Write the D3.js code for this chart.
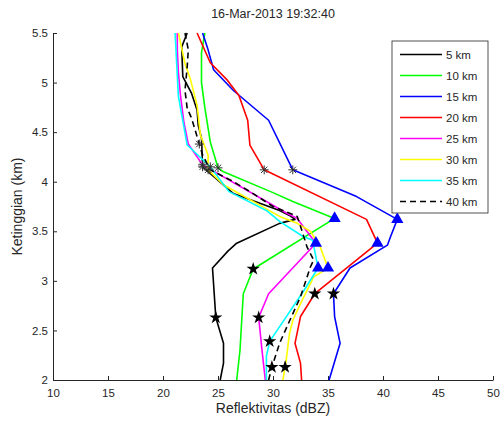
<!DOCTYPE html>
<html lang="en">
<head>
<meta charset="UTF-8">
<title>Profil reflektivitas</title>
<script src="https://d3js.org/d3.v7.min.js"></script>
<style>
    body { margin: 0; background: #fff; }
    text { font-family: "Liberation Sans", Arial, sans-serif; fill: #262626; }
</style>
</head>
<body>
<script>
    const width = 502;
    const height = 423;

    // profile data: [dBZ, height km]
    const km5 = [[25.2,2.0],[25.5,2.17],[25.5,2.37],[24.8,2.63],[24.5,3.13],[25.9,3.3],[26.7,3.38],[30.6,3.58],[32.0,3.62],[31.5,3.66],[30.6,3.71],[26.4,3.88],[23.6,4.15],[23.5,4.44],[23.2,4.57],[23.1,4.72],[22.6,4.89],[21.8,5.06],[21.7,5.36],[22.2,5.5]];
    const km10 = [[26.7,2.0],[27.0,2.3],[27.3,2.87],[28.2,3.12],[35.6,3.63],[31.8,3.8],[30.0,3.89],[25.5,4.1],[25.0,4.14],[24.3,4.4],[23.8,4.75],[23.5,5.0],[23.5,5.3],[23.8,5.5]];
    const km15 = [[35.1,2.0],[36.1,2.37],[35.6,2.64],[35.5,2.87],[37.0,3.13],[40.4,3.36],[40.7,3.45],[41.3,3.62],[37.6,3.85],[31.8,4.12],[29.6,4.62],[26.4,4.92],[24.6,5.13],[24.1,5.33],[23.6,5.5]];
    const km20 = [[32.6,2.0],[32.5,2.17],[32.0,2.37],[32.5,2.64],[33.8,2.87],[39.5,3.38],[38.5,3.62],[29.2,4.12],[27.9,4.37],[27.7,4.62],[26.9,4.87],[25.8,5.03],[24.3,5.2],[23.1,5.5]];
    const km25 = [[29.3,2.0],[29.0,2.3],[28.7,2.63],[29.6,2.87],[33.9,3.38],[32.2,3.63],[31.3,3.68],[23.6,4.17],[22.3,4.38],[21.9,4.6],[21.6,4.86],[21.4,5.1],[21.3,5.33],[21.3,5.5]];
    const km30 = [[30.9,2.0],[31.1,2.13],[31.2,2.2],[31.5,2.47],[31.8,2.6],[32.5,2.77],[33.7,3.04],[35.0,3.13],[34.3,3.34],[33.4,3.5],[32.2,3.58],[30.6,3.65],[25.5,3.97],[24.1,4.12],[24.1,4.27],[23.4,4.47],[23.1,4.77],[22.5,5.03],[22.0,5.19],[21.4,5.5]];
    const km35 = [[29.4,2.0],[29.4,2.24],[29.7,2.39],[32.8,2.9],[34.1,3.13],[33.6,3.41],[32.7,3.45],[30.6,3.6],[29.4,3.71],[26.0,3.9],[24.3,4.15],[22.2,4.37],[21.4,4.86],[21.1,5.5]];
    const km40 = [[29.6,2.0],[29.9,2.13],[30.6,2.37],[31.4,2.57],[32.5,2.84],[33.4,3.14],[33.7,3.21],[33.1,3.34],[32.5,3.55],[32.2,3.65],[30.0,3.75],[28.2,3.88],[26.4,4.0],[24.3,4.12],[23.6,4.27],[23.3,4.38],[22.6,4.64],[22.2,4.74],[22.0,4.92],[22.2,5.16],[22.3,5.33],[22.0,5.5]];

    const seriesNames = ["5 km", "10 km", "15 km", "20 km", "25 km", "30 km", "35 km", "40 km"];
    const seriesData = [km5, km10, km15, km20, km25, km30, km35, km40];
    const seriesColors = ["#000000", "#00ff00", "#0000ff", "#ff0000", "#ff00ff", "#ffff00", "#00ffff", "#000000"];

    // markers
    const lowStars = [[24.8,2.63],[28.2,3.12],[35.5,2.87],[33.8,2.87],[28.7,2.63],[31.1,2.13],[29.7,2.39],[29.9,2.13]];
    const highStars = [[23.6,4.15],[25.0,4.14],[31.8,4.12],[29.2,4.12],[23.6,4.17],[24.1,4.12],[24.3,4.15],[23.3,4.38]];
    const peaks = [[35.6,3.63],[41.3,3.62],[39.5,3.38],[33.9,3.38],[35.0,3.13],[34.1,3.13]];

    const xTicks = [10, 15, 20, 25, 30, 35, 40, 45, 50];
    const yTicks = [2, 2.5, 3, 3.5, 4, 4.5, 5, 5.5];

    const margin = {top: 33, right: 9, bottom: 43, left: 53};

    const x = d3.scaleLinear().domain([10, 50]).range([margin.left, width - margin.right]);
    const y = d3.scaleLinear().domain([2, 5.5]).range([height - margin.bottom, margin.top]);

    const svg = d3.select("body").append("svg")
        .attr("width", width)
        .attr("height", height);

    // axes
    const xAxis = svg.append("g")
        .attr("transform", `translate(0,${y(2)})`)
        .call(d3.axisBottom(x).tickValues(xTicks).tickSizeInner(-4).tickSizeOuter(0).tickPadding(9).tickFormat(d3.format("d")));
    const yAxis = svg.append("g")
        .attr("transform", `translate(${x(10)},0)`)
        .call(d3.axisLeft(y).tickValues(yTicks).tickSizeInner(-4).tickSizeOuter(0).tickPadding(5).tickFormat(d => d));

    [xAxis, yAxis].forEach(a => {
        a.select(".domain").attr("stroke", "#262626");
        a.selectAll(".tick line").attr("stroke", "#262626");
        a.selectAll(".tick text").style("font-size", "11.5px").attr("fill", "#262626");
    });

    const line = d3.line().x(d => x(d[0])).y(d => y(d[1]));

    svg.append("g").selectAll("path")
        .data(seriesData)
        .join("path")
        .attr("d", line)
        .attr("fill", "none")
        .attr("stroke", (d, i) => seriesColors[i])
        .attr("stroke-width", 1.6)
        .attr("stroke-dasharray", (d, i) => i === 7 ? "6,4" : null)
        .attr("stroke-linejoin", "round");

    // asterisk marker like matlab '*'
    const asterisk = {
        draw(ctx, size) {
            const r = Math.sqrt(size) / 2;
            const a = r * 0.72;
            ctx.moveTo(-r, 0); ctx.lineTo(r, 0);
            ctx.moveTo(0, -r); ctx.lineTo(0, r);
            ctx.moveTo(-a, -a); ctx.lineTo(a, a);
            ctx.moveTo(-a, a); ctx.lineTo(a, -a);
        }
    };

    svg.append("g").selectAll("path")
        .data(peaks)
        .join("path")
        .attr("transform", d => `translate(${x(d[0])},${y(d[1])})`)
        .attr("d", d3.symbol().type(d3.symbolTriangle).size(65))
        .attr("fill", "#0000ff");

    svg.append("g").selectAll("path")
        .data(lowStars)
        .join("path")
        .attr("transform", d => `translate(${x(d[0])},${y(d[1])})`)
        .attr("d", d3.symbol().type(d3.symbolStar).size(55))
        .attr("fill", "#000");

    svg.append("g").selectAll("path")
        .data(highStars)
        .join("path")
        .attr("transform", d => `translate(${x(d[0])},${y(d[1])})`)
        .attr("d", d3.symbol().type(asterisk).size(80))
        .attr("fill", "none")
        .attr("stroke", "#333")
        .attr("stroke-width", 1);

    // title and labels
    svg.append("text")
        .attr("x", (x(10) + x(50)) / 2)
        .attr("y", 18)
        .attr("text-anchor", "middle")
        .style("font-size", "12.5px")
        .text("16-Mar-2013 19:32:40");

    svg.append("text")
        .attr("x", (x(10) + x(50)) / 2)
        .attr("y", 413)
        .attr("text-anchor", "middle")
        .style("font-size", "14px")
        .text("Reflektivitas (dBZ)");

    svg.append("text")
        .attr("transform", `translate(22,${(y(2) + y(5.5)) / 2}) rotate(-90)`)
        .attr("text-anchor", "middle")
        .style("font-size", "14px")
        .text("Ketinggian (km)");

    // legend
    const legend = svg.append("g").attr("transform", "translate(392,41)");
    legend.append("rect")
        .attr("width", 96)
        .attr("height", 172)
        .attr("fill", "#fff")
        .attr("stroke", "#262626")
        .attr("stroke-width", 0.8);

    const item = legend.selectAll("g.item")
        .data(seriesNames)
        .join("g")
        .attr("class", "item")
        .attr("transform", (d, i) => `translate(0,${13.5 + i * 21})`);

    item.append("line")
        .attr("x1", 8).attr("x2", 50)
        .attr("stroke", (d, i) => seriesColors[i])
        .attr("stroke-width", 1.6)
        .attr("stroke-dasharray", (d, i) => i === 7 ? "6,4" : null);

    item.append("text")
        .attr("x", 54)
        .attr("dy", "0.35em")
        .style("font-size", "11.5px")
        .text(d => d);
</script>
</body>
</html>
